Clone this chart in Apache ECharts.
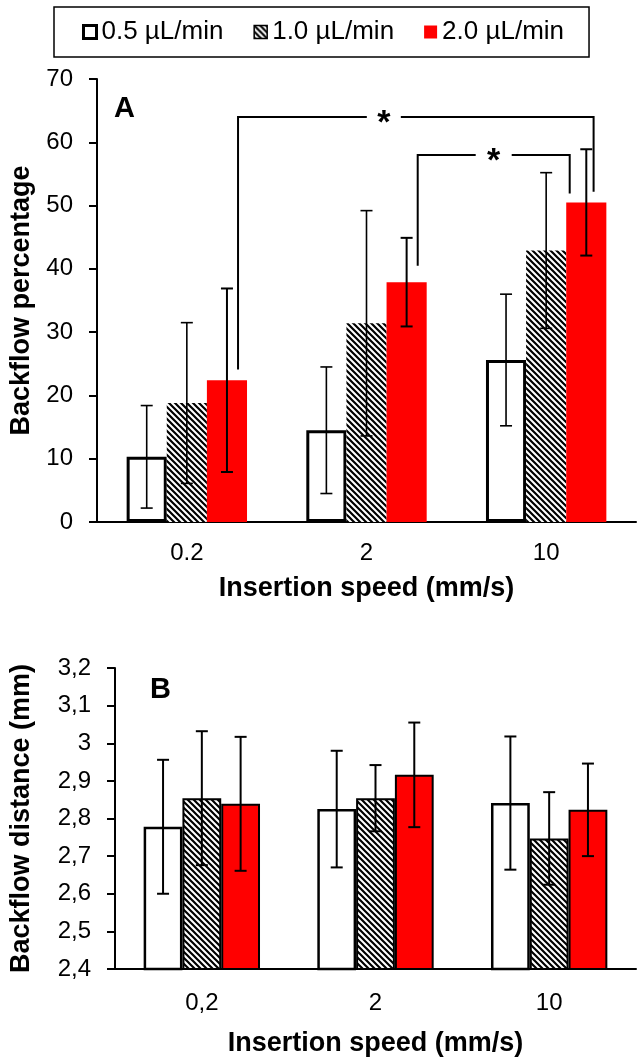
<!DOCTYPE html>
<html><head><meta charset="utf-8">
<script src="https://cdn.jsdelivr.net/npm/echarts@6/dist/echarts.min.js"></script>
<style>html,body{margin:0;padding:0;background:#fff}#c{width:644px;height:1062px}</style>
</head><body><div id="c"></div>
<script>
// ---------- data ----------
const seriesNames = ['0.5 µL/min', '1.0 µL/min', '2.0 µL/min'];
const speedLabelsA = ['0.2', '2', '10'];
const speedLabelsB = ['0,2', '2', '10'];

// Panel A: backflow percentage (mean, sd)
const pctMean05 = [10.3, 14.5, 25.6];
const pctMean10 = [18.8, 31.4, 42.9];
const pctMean20 = [22.4, 37.9, 50.5];
const pctSd05 = [8.1, 10.0, 10.4];
const pctSd10 = [12.7, 17.8, 12.3];
const pctSd20 = [14.5, 7.0, 8.4];

// Panel B: backflow distance in mm (mean, sd)
const distMean05 = [2.778, 2.825, 2.841];
const distMean10 = [2.854, 2.854, 2.747];
const distMean20 = [2.839, 2.916, 2.823];
const distSd05 = [0.178, 0.155, 0.177];
const distSd10 = [0.178, 0.088, 0.123];
const distSd20 = [0.178, 0.139, 0.123];

// significance brackets (panel A): [leftCategory, rightCategory, leftStartValue, topValue, rightStartValue]
const bracketRows = [
  [0, 2, 24.1, 64.0, 52.2],
  [1, 2, 40.5, 58.0, 51.9]
];
const bracketLabels = ['*', '*'];

// ---------- styling ----------
const FONT = 'Liberation Sans, Arial, sans-serif';
const CAT_GAP = 0.33;
const bracketOffsets = [[0.285, 0.264], [0.285, 0.131]];
const starFrac = [0.41, 0.5];
const starGap = [34, 36];

function hatchCanvas() {
  const s = 6;
  const c = document.createElement('canvas');
  c.width = s; c.height = s;
  const g = c.getContext('2d');
  g.fillStyle = '#fff'; g.fillRect(0, 0, s, s);
  g.strokeStyle = '#000'; g.lineWidth = 2.2;
  g.beginPath();
  for (let k = -1; k <= 1; k++) { g.moveTo(-1, -1 + k * s); g.lineTo(s + 1, s + 1 + k * s); }
  g.stroke();
  return c;
}
const hatch = { image: hatchCanvas(), repeat: 'repeat' };

function errSeries(gi, means, sds, k, lw) {
  return {
    type: 'custom', xAxisIndex: gi, yAxisIndex: gi, z: 10, silent: true,
    data: means.map((m, i) => [i, m - sds[i], m + sds[i]]),
    encode: { x: 0, y: [1, 2] },
    renderItem(params, api) {
      const i = api.value(0);
      const lo = api.coord([i, api.value(1)]);
      const hi = api.coord([i, api.value(2)]);
      const cw = api.size([1, 0])[0];
      const bw = cw * (1 - CAT_GAP) / 3;
      const x = lo[0] + (k - 1) * bw;
      const cap = 6;
      const st = { stroke: '#000', lineWidth: lw };
      return { type: 'group', children: [
        { type: 'line', shape: { x1: x, y1: lo[1], x2: x, y2: hi[1] }, style: st },
        { type: 'line', shape: { x1: x - cap, y1: lo[1], x2: x + cap, y2: lo[1] }, style: st },
        { type: 'line', shape: { x1: x - cap, y1: hi[1], x2: x + cap, y2: hi[1] }, style: st }
      ]};
    }
  };
}

const bracketSeries = {
  type: 'custom', xAxisIndex: 0, yAxisIndex: 0, z: 12, silent: true,
  data: bracketRows,
  encode: { x: [0, 1], y: [2, 3, 4] },
  renderItem(params, api) {
    const idx = params.dataIndex;
    const cw = api.size([1, 0])[0];
    const pL = api.coord([api.value(0), api.value(2)]);
    const pT = api.coord([api.value(0), api.value(3)]);
    const pR = api.coord([api.value(1), api.value(4)]);
    const xL = pL[0] + bracketOffsets[idx][0] * cw;
    const xR = pR[0] + bracketOffsets[idx][1] * cw;
    const yT = pT[1];
    const sx = xL + (xR - xL) * starFrac[idx];
    const g = starGap[idx] / 2;
    const st = { stroke: '#000', lineWidth: 2, fill: null };
    return { type: 'group', children: [
      { type: 'polyline', shape: { points: [[xL, pL[1]], [xL, yT], [sx - g, yT]] }, style: st },
      { type: 'polyline', shape: { points: [[sx + g, yT], [xR, yT], [xR, pR[1]]] }, style: st },
      { type: 'text', style: { text: bracketLabels[idx], x: sx, y: yT + 7, align: 'center', verticalAlign: 'middle',
        font: 'bold 34px ' + FONT, fill: '#000' } }
    ]};
  }
};

function xAxisCfg(gi, data, nameGap, margin) {
  return {
    type: 'category', gridIndex: gi, data: data,
    axisLine: { lineStyle: { color: '#000', width: 2 } },
    axisTick: { length: 8, lineStyle: { color: '#000', width: 2 } },
    axisLabel: { fontSize: 24, color: '#000', margin: margin, fontFamily: FONT },
    name: 'Insertion speed (mm/s)', nameLocation: 'middle', nameGap: nameGap,
    nameTextStyle: { fontSize: 27, fontWeight: 'bold', color: '#000', fontFamily: FONT }
  };
}
function yAxisCfg(gi, min, max, interval, name, nameGap, fmt) {
  return {
    type: 'value', gridIndex: gi, min: min, max: max, interval: interval,
    splitLine: { show: false },
    axisLine: { show: true, lineStyle: { color: '#000', width: 2 } },
    axisTick: { show: true, length: 8, lineStyle: { color: '#000', width: 2 } },
    axisLabel: { fontSize: 24, color: '#000', margin: 24, fontFamily: FONT, formatter: fmt },
    name: name, nameLocation: 'middle', nameGap: nameGap, nameRotate: 90,
    nameTextStyle: { fontSize: 27, fontWeight: 'bold', color: '#000', fontFamily: FONT }
  };
}

function bar(gi, name, data, style) {
  return { type: 'bar', name: name, xAxisIndex: gi, yAxisIndex: gi, data: data,
    barGap: '0%', barCategoryGap: (CAT_GAP * 100) + '%', itemStyle: style,
    emphasis: { disabled: true }, silent: true };
}

const chart = echarts.init(document.getElementById('c'), null, { renderer: 'canvas' });
chart.setOption({
  animation: false,
  backgroundColor: '#fff',
  textStyle: { fontFamily: FONT },
  legend: {
    left: 54, top: 7, padding: [12, 25, 12, 28], itemGap: 30, itemWidth: 13, itemHeight: 13,
    borderColor: '#000', borderWidth: 1.5, selectedMode: false,
    textStyle: { fontSize: 26, color: '#000', fontFamily: FONT },
    data: [
      { name: seriesNames[0], icon: 'rect', itemStyle: { color: '#fff', borderColor: '#000', borderWidth: 3 } },
      { name: seriesNames[1], icon: 'rect', itemStyle: { color: hatch, borderColor: '#000', borderWidth: 1.5 } },
      { name: seriesNames[2], icon: 'rect', itemStyle: { color: '#ff0000', borderWidth: 0 } }
    ]
  },
  graphic: [
    { type: 'text', left: 114, top: 94, style: { text: 'A', font: 'bold 29px ' + FONT, fill: '#000' } },
    { type: 'text', left: 150, top: 675, style: { text: 'B', font: 'bold 29px ' + FONT, fill: '#000' } }
  ],
  grid: [
    { left: 97, right: 8, top: 79, height: 443 },
    { left: 113, right: 8, top: 668, height: 301 }
  ],
  xAxis: [xAxisCfg(0, speedLabelsA, 53, 19), xAxisCfg(1, speedLabelsB, 61, 22)],
  yAxis: [
    yAxisCfg(0, 0, 70, 10, 'Backflow percentage', 58, v => String(v)),
    yAxisCfg(1, 2.4, 3.2, 0.1, 'Backflow distance (mm)', 80, v => String(Math.round(v * 10) / 10).replace('.', ','))
  ],
  series: [
    bar(0, seriesNames[0], pctMean05, { color: '#fff', borderColor: '#000', borderWidth: 3 }),
    bar(0, seriesNames[1], pctMean10, { color: hatch, borderWidth: 0 }),
    bar(0, seriesNames[2], pctMean20, { color: '#ff0000', borderWidth: 0 }),
    bar(1, seriesNames[0], distMean05, { color: '#fff', borderColor: '#000', borderWidth: 2.5 }),
    bar(1, seriesNames[1], distMean10, { color: hatch, borderColor: '#000', borderWidth: 2 }),
    bar(1, seriesNames[2], distMean20, { color: '#ff0000', borderColor: '#000', borderWidth: 2 }),
    errSeries(0, pctMean05, pctSd05, 0, 1.6),
    errSeries(0, pctMean10, pctSd10, 1, 1.6),
    errSeries(0, pctMean20, pctSd20, 2, 2),
    errSeries(1, distMean05, distSd05, 0, 2),
    errSeries(1, distMean10, distSd10, 1, 2),
    errSeries(1, distMean20, distSd20, 2, 2),
    bracketSeries
  ]
});
</script></body></html>
